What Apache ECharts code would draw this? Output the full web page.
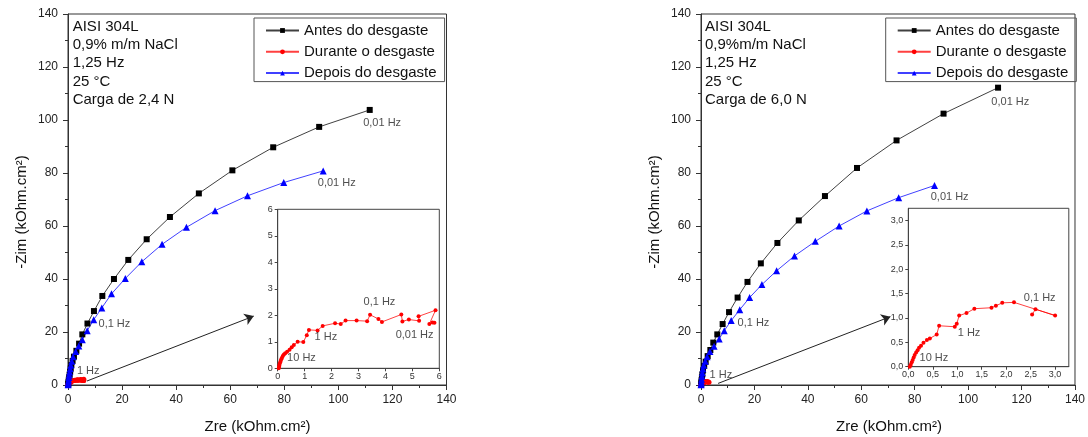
<!DOCTYPE html>
<html><head><meta charset="utf-8">
<script src="https://cdn.jsdelivr.net/npm/echarts@6/dist/echarts.min.js"></script>
<style>html,body{margin:0;padding:0;background:#fff}#c{width:1088px;height:437px}</style>
</head><body><div id="c"></div>
<script>
// ---- data (kOhm.cm2) ----
const seriesNames = ['Antes do desgaste', 'Durante o desgaste', 'Depois do desgaste'];
const infoLeft = ['AISI 304L', '0,9% m/m NaCl', '1,25 Hz', '25 °C', 'Carga de 2,4 N'];
const infoRight = ['AISI 304L', '0,9%m/m NaCl', '1,25 Hz', '25 °C', 'Carga de 6,0 N'];
const mainTicks = [0, 20, 40, 60, 80, 100, 120, 140];
const insetLeftTicks = [0, 1, 2, 3, 4, 5, 6];
const insetRightTicks = [0, 0.5, 1, 1.5, 2, 2.5, 3];

// Left panel: 2,4 N
const antesL = [[0.05,0.1],[0.1,0.5],[0.2,1.2],[0.3,2.0],[0.45,2.9],[0.6,3.9],[0.8,5.0],[1.0,6.2],[1.25,7.5],[1.7,9.1],[2.2,10.7],[3.1,12.9],[4.1,15.6],[5.3,19.1],[7.2,23.2],[9.6,27.9],[12.7,33.6],[17.0,40.0],[22.3,47.2],[29.1,55.0],[37.7,63.4],[48.4,72.3],[60.8,81.0],[75.9,89.7],[92.9,97.4],[111.6,103.8]];
const depoisL = [[0.04,0.1],[0.08,0.5],[0.14,1.1],[0.22,1.9],[0.32,2.8],[0.45,3.8],[0.6,4.9],[0.8,6.1],[1.05,7.5],[1.4,9.0],[1.9,10.7],[2.85,12.6],[4.0,14.7],[5.3,17.1],[7.1,20.5],[9.5,24.6],[12.5,29.1],[16.1,34.4],[21.2,40.2],[27.3,46.5],[34.8,53.1],[43.8,59.5],[54.4,65.8],[66.4,71.4],[79.8,76.4],[94.4,80.8]];
const duranteL = [[0.04,0.0],[0.05,0.05],[0.06,0.1],[0.07,0.16],[0.09,0.22],[0.11,0.28],[0.13,0.34],[0.16,0.40],[0.19,0.46],[0.23,0.52],[0.28,0.57],[0.35,0.62],[0.44,0.70],[0.52,0.79],[0.60,0.88],[0.74,1.0],[0.95,0.99],[1.08,1.25],[1.16,1.45],[1.48,1.43],[1.67,1.60],[2.13,1.70],[2.34,1.67],[2.52,1.80],[2.93,1.80],[3.32,1.78],[3.43,2.02],[3.74,1.86],[3.87,1.75],[4.59,2.03],[4.63,1.77],[4.87,1.84],[5.25,1.79],[5.23,1.96],[5.86,2.19],[5.63,1.67],[5.75,1.73],[5.82,1.72]];

// Right panel: 6,0 N
const antesR = [[0.05,0.2],[0.12,0.9],[0.22,1.8],[0.35,2.9],[0.5,4.0],[0.75,5.5],[1.2,7.2],[1.75,8.8],[2.5,10.9],[3.5,13.2],[4.6,16.0],[6.1,19.1],[8.1,23.0],[10.5,27.5],[13.7,33.0],[17.4,38.9],[22.4,45.9],[28.6,53.6],[36.6,62.1],[46.4,71.3],[58.4,81.9],[73.2,92.3],[90.8,102.4],[111.2,112.2]];
const depoisR = [[0.03,0.1],[0.06,0.5],[0.12,1.2],[0.22,2.2],[0.35,3.3],[0.5,4.6],[0.7,6.0],[1.0,7.5],[1.6,9.0],[2.3,10.7],[3.35,12.6],[4.9,14.6],[6.8,17.4],[8.7,20.5],[11.3,24.3],[14.5,28.4],[18.2,33.0],[22.8,37.9],[28.3,43.1],[35.0,48.7],[42.8,54.2],[51.7,60.0],[62.1,65.7],[74.0,70.7],[87.4,75.3]];
const duranteR = [[0.03,0.0],[0.05,0.04],[0.07,0.09],[0.09,0.14],[0.11,0.19],[0.13,0.24],[0.16,0.29],[0.19,0.34],[0.22,0.39],[0.26,0.43],[0.31,0.49],[0.38,0.55],[0.44,0.58],[0.58,0.66],[0.63,0.84],[0.95,0.82],[0.99,0.88],[1.04,1.05],[1.19,1.10],[1.35,1.19],[1.70,1.21],[1.79,1.25],[1.92,1.31],[2.16,1.32],[3.0,1.05],[2.60,1.18],[2.53,1.07]];

// frequency annotations [x, y, text] in data units
const notesMainL = [[109.0,99.0,'0,01 Hz'],[92.2,76.2,'0,01 Hz'],[11.1,22.9,'0,1 Hz'],[3.1,5.3,'1 Hz']];
const notesMainR = [[108.5,106.7,'0,01 Hz'],[85.8,70.9,'0,01 Hz'],[13.5,23.5,'0,1 Hz'],[3.0,3.9,'1 Hz']];
const notesInsetL = [[3.17,2.49,'0,1 Hz'],[1.35,1.19,'1 Hz'],[0.33,0.38,'10 Hz'],[4.36,1.26,'0,01 Hz']];
const notesInsetR = [[2.35,1.42,'0,1 Hz'],[1.0,0.69,'1 Hz'],[0.22,0.17,'10 Hz']];
const arrowL = [[7.0,1.5],[68.7,26.0]];
const arrowR = [[6.4,0.6],[70.9,25.8]];

// ---- chart ----
const FONT = '"Liberation Sans", Arial, sans-serif';
const C_BLACK = '#000000', C_RED = '#ff0000', C_BLUE = '#0000ff';
const chart = echarts.init(document.getElementById('c'), null, {renderer: 'canvas'});

function mainX(idx) {
  return {type:'value', gridIndex: idx, min: 0, max: 140, interval: 20,
    axisLine:{show:true, onZero:false, lineStyle:{color:'#333'}},
    axisTick:{show:true, length:5, lineStyle:{color:'#333'}},
    minorTick:{show:true, splitNumber:2, length:3, lineStyle:{color:'#333'}},
    axisLabel:{fontSize:12, color:'#222', margin:9, fontFamily:FONT},
    splitLine:{show:false}};
}
function mainY(idx) {
  return {type:'value', gridIndex: idx, min: 0, max: 140, interval: 20,
    axisLine:{show:true, onZero:false, lineStyle:{color:'#333'}},
    axisTick:{show:true, length:5, lineStyle:{color:'#333'}},
    minorTick:{show:true, splitNumber:2, length:3, lineStyle:{color:'#333'}},
    axisLabel:{fontSize:12, color:'#222', margin:10, fontFamily:FONT},
    splitLine:{show:false}};
}
function commaFmt(v) { return (Math.abs(v - Math.round(v*2)/2) < 1e-6) ? v.toFixed(1).replace('.', ',') : ''; }
function insetAxis(idx, max, interval, ticks, fmt, margin) {
  return {type:'value', gridIndex: idx, min: 0, max: max, interval: interval,
    axisLine:{show:true, onZero:false, lineStyle:{color:'#444'}},
    axisTick:{show:true, length:3, lineStyle:{color:'#444'}, customValues: ticks},
    axisLabel:{fontSize:9, color:'#333', margin:margin, fontFamily:FONT, formatter: fmt, customValues: ticks},
    splitLine:{show:false}};
}

function line(name, data, xi, color, symbol, size, z) {
  return {type:'line', name:name, xAxisIndex:xi, yAxisIndex:xi, data:data,
    symbol:symbol, symbolSize:size, showSymbol:true, z:z||2,
    lineStyle:{color:color, width:1, opacity:0.75}, itemStyle:{color:color},
    emphasis:{disabled:true}};
}
function notes(data, xi) {
  return {type:'scatter', xAxisIndex:xi, yAxisIndex:xi, data:data, symbolSize:1, silent:true, z:6,
    itemStyle:{color:'rgba(0,0,0,0)'},
    label:{show:true, position:'right', distance:0, formatter:p=>p.value[2], fontSize:11,
      color:'#222', fontFamily:FONT, verticalAlign:'middle'},
    labelLayout:{hideOverlap:false}};
}
function arrow(pts, xi) {
  return {type:'line', xAxisIndex:xi, yAxisIndex:xi, data:[], silent:true,
    markLine:{silent:true, symbol:['none','arrow'], symbolSize:9, animation:false,
      lineStyle:{color:'#222', width:1, type:'solid'}, label:{show:false},
      data:[[{coord:pts[0]},{coord:pts[1]}]]}};
}
function legend(left) {
  return {left:left, top:18, orient:'vertical', data:seriesNames, selectedMode:false,
    borderColor:'#555', borderWidth:1, padding:[5,8,1,11], itemWidth:33, itemHeight:6, itemGap:6.3,
    textStyle:{fontSize:15, color:'#111', fontFamily:FONT, lineHeight:12}};
}
function info(lines, x) {
  return {type:'text', left:x, top:17.5, silent:true,
    style:{text:lines.join('\n'), font:'15px ' + FONT, fill:'#111', lineHeight:18.3}};
}
function yName(x) {
  return {type:'text', x:x, y:212, rotation:Math.PI/2, silent:true,
    style:{text:'-Zim (kOhm.cm²)', font:'15px ' + FONT, fill:'#111', align:'center', verticalAlign:'middle'}};
}
function xName(x) {
  return {type:'text', x:x, y:427, silent:true,
    style:{text:'Zre (kOhm.cm²)', font:'15px ' + FONT, fill:'#111', align:'center', verticalAlign:'middle'}};
}

const option = {
  animation:false,
  backgroundColor:'#fff',
  textStyle:{fontFamily:FONT},
  grid:[
    {left:68, top:14, width:378.5, height:371, show:true, borderColor:'#333', borderWidth:1, backgroundColor:'transparent'},
    {left:701, top:14, width:376.5, height:371, show:true, borderColor:'#333', borderWidth:1, backgroundColor:'transparent'},
    {left:277.7, top:209.3, width:161.6, height:159, show:true, borderColor:'#444', borderWidth:1, backgroundColor:'#fff'},
    {left:908.3, top:208.3, width:160.5, height:158.4, show:true, borderColor:'#444', borderWidth:1, backgroundColor:'#fff'}
  ],
  xAxis:[mainX(0), mainX(1),
    insetAxis(2, 6, 1, insetLeftTicks, v=>String(v), 4),
    insetAxis(3, 3.28, 0.5, insetRightTicks, commaFmt, 3)],
  yAxis:[mainY(0), mainY(1),
    insetAxis(2, 6, 1, insetLeftTicks, v=>String(v), 5),
    insetAxis(3, 3.25, 0.5, insetRightTicks, commaFmt, 5)],
  legend:[legend(254), legend(885.7)],
  series:[
    line(seriesNames[0], antesL, 0, C_BLACK, 'rect', 6),
    line(seriesNames[1], duranteL, 0, C_RED, 'circle', 5),
    line(seriesNames[2], depoisL, 0, C_BLUE, 'triangle', 7),
    line(seriesNames[0], antesR, 1, C_BLACK, 'rect', 6),
    line(seriesNames[1], duranteR, 1, C_RED, 'circle', 5),
    line(seriesNames[2], depoisR, 1, C_BLUE, 'triangle', 7),
    line('inset-l', duranteL, 2, C_RED, 'circle', 4, 4),
    line('inset-r', duranteR, 3, C_RED, 'circle', 4, 4),
    arrow(arrowL, 0), arrow(arrowR, 1),
    notes(notesMainL, 0), notes(notesMainR, 1), notes(notesInsetL, 2), notes(notesInsetR, 3)
  ],
  graphic:[info(infoLeft, 72.7), info(infoRight, 705), yName(21.7), yName(655), xName(257.5), xName(889)]
};
chart.setOption(option);
</script></body></html>
